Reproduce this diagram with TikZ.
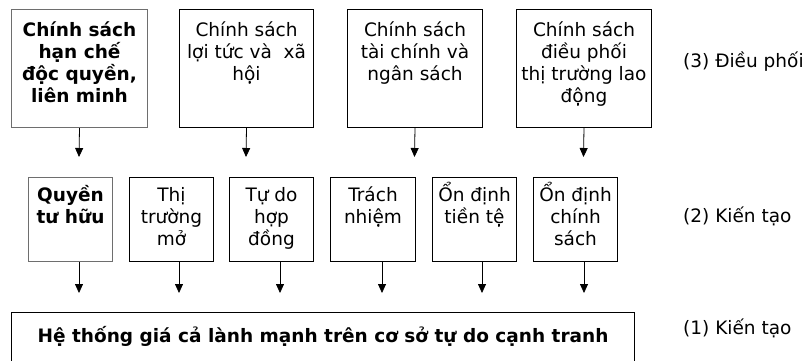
\documentclass[tikz,border=0pt]{standalone}
\usepackage{fontspec}
\setmainfont{DejaVu Sans}
\usetikzlibrary{arrows.meta}
\newcommand\fs{\fontsize{18.5}{22}\selectfont}
\newcommand\bxt[4]{\parbox[t][#2][t]{#1}{\centering\rule{0pt}{#3}#4}}
\definecolor{edgegray}{RGB}{110,110,110}
\tikzset{
  box/.style={draw, line width=1pt, inner sep=0pt, anchor=north west, font=\fs},
  lbl/.style={anchor=base west, inner sep=0pt, font=\fs},
  arr/.style={line width=0.8pt, -{Triangle[width=8pt,length=9pt]}},
}
\begin{document}
\begin{tikzpicture}[x=1pt,y=-1pt]
\useasboundingbox[fill=white] (0,0) rectangle (806,360);
% top row
\node[box, draw=edgegray] (t1) at (11,9) {\bxt{136pt}{118pt}{27pt}{\bfseries Chính sách\\hạn chế\\độc quyền,\\liên minh}};
\node[box] (t2) at (179,9) {\bxt{134pt}{118pt}{27pt}{Chính sách\\lợi tức và \ xã\\hội}};
\node[box] (t3) at (347,9) {\bxt{135pt}{118pt}{27pt}{Chính sách\\tài chính và\\ngân sách}};
\node[box] (t4) at (516,9) {\bxt{135pt}{118pt}{27pt}{Chính sách\\điều phối\\thị trường lao\\động}};
% middle row
\node[box, draw=edgegray] (m1) at (28,177) {\bxt{84pt}{84pt}{24pt}{\bfseries Quyền\\tư hữu}};
\node[box] (m2) at (129,177) {\bxt{84pt}{84pt}{24pt}{Thị\\trường\\mở}};
\node[box] (m3) at (229,177) {\bxt{84pt}{84pt}{24pt}{Tự do\\hợp\\đồng}};
\node[box] (m4) at (330,177) {\bxt{85pt}{84pt}{24pt}{Trách\\nhiệm}};
\node[box] (m5) at (432,177) {\bxt{84pt}{84pt}{24pt}{Ổn định\\tiền tệ}};
\node[box] (m6) at (533,177) {\bxt{84pt}{84pt}{24pt}{Ổn định\\chính\\sách}};
% bottom
\node[box] (b) at (11,312) {\bxt{623pt}{60pt}{30pt}{\bfseries Hệ thống giá cả lành mạnh trên cơ sở tự do cạnh tranh}};
% labels
\node[lbl] (l3) at (683,67) {(3) Điều phối};
\node[lbl] (l2) at (683,222) {(2) Kiến tạo};
\node[lbl] (l1) at (683,334) {(1) Kiến tạo};
% arrow ends
\coordinate (c1) at (79,157);
\coordinate (c2) at (246,157);
\coordinate (c3) at (414.5,157);
\coordinate (c4) at (583.5,157);
\coordinate (d1) at (79,293);
\coordinate (d2) at (179,293);
\coordinate (d3) at (280,293);
\coordinate (d4) at (382,293);
\coordinate (d5) at (482,293);
\coordinate (d6) at (584,293);
\draw[arr] (t1.south) -- (c1);
\draw[arr] (t2.south) -- (c2);
\draw[arr] (t3.south) -- (c3);
\draw[arr] (t4.south) -- (c4);
\draw[arr] (m1.south -| d1) -- (d1);
\draw[arr] (m2.south -| d2) -- (d2);
\draw[arr] (m3.south -| d3) -- (d3);
\draw[arr] (m4.south -| d4) -- (d4);
\draw[arr] (m5.south -| d5) -- (d5);
\draw[arr] (m6.south -| d6) -- (d6);
\end{tikzpicture}
\end{document}
